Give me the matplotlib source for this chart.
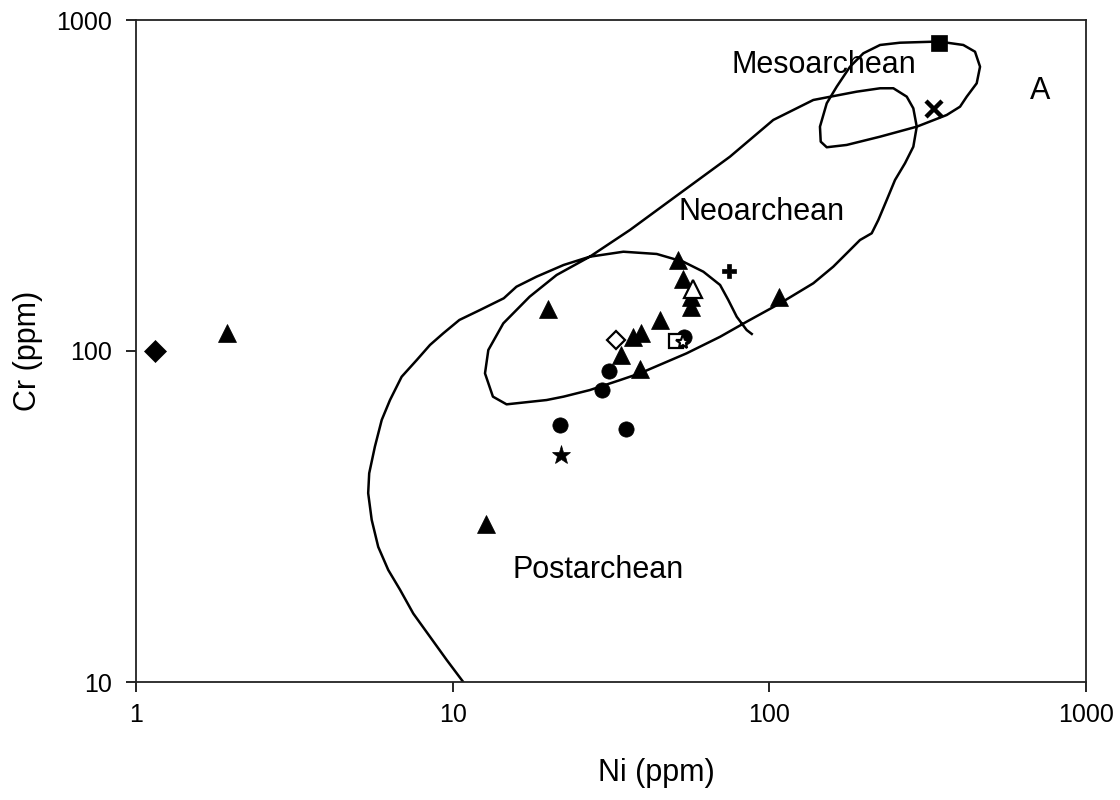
import numpy as np
from matplotlib import pyplot as plt
from matplotlib.ticker import FixedLocator, FuncFormatter, NullLocator

plt.rcParams['font.family'] = ['Liberation Sans', 'DejaVu Sans']

# outline: Postarchean left boundary -> Neoarchean envelope -> inner loop (Ni, Cr in ppm)
field_ni = [10.8, 9.58, 8.48, 7.51, 6.82, 6.26, 5.82, 5.55, 5.41, 5.45, 5.68, 5.97, 6.34, 6.90,
            7.70, 8.48, 9.34, 10.5, 12.2, 14.5, 15.9, 18.4, 22.4, 27.1, 36.3, 52.2, 75.1, 102.9,
            137.7, 188.7, 223.7, 246.4, 271.6, 284.9, 292.1, 284.9, 268.2, 249.4, 234.8, 220.9,
            210.5, 193.3, 175.5, 159.2, 137.7, 108.1, 84.8, 69.9, 59.0, 54.8, 39.0, 33.8, 27.1,
            22.4, 19.8, 14.8, 13.4, 12.65, 12.96, 14.45, 17.5, 21.3, 27.1, 34.6, 44.1, 53.5,
            61.9, 69.9, 74.2, 78.9, 84.8, 88.0]
field_cr = [10.0, 11.65, 13.7, 16.1, 19.0, 21.8, 25.6, 30.9, 37.2, 42.7, 51.4, 61.9, 71.1, 83.6,
            93.9, 104.3, 113.1, 124.1, 133.0, 144.3, 156.4, 167.7, 181.9, 192.7, 232.1, 299.5,
            386.4, 498.9, 573.3, 607.4, 621.9, 622.0, 586.7, 541.0, 476.1, 414.1, 369.2, 328.6,
            285.9, 248.8, 226.8, 216.4, 197.3, 179.8, 160.2, 139.3, 122.6, 110.4, 101.9, 98.4,
            85.6, 81.7, 76.2, 72.8, 71.1, 69.0, 72.8, 85.6, 100.7, 121.2, 145.9, 169.7, 192.7,
            199.5, 196.4, 186.1, 173.6, 158.3, 142.6, 126.9, 115.7, 112.6]

# Mesoarchean loop
meso_ni = [345.8, 409.8, 446.2, 462.8, 451.7, 420.1, 400.2, 363.2, 292.1, 223.7, 175.5, 151.8,
           145.3, 144.5, 151.8, 163.2, 179.8, 198.1, 223.7, 258.6, 329.5, 345.8]
meso_cr = [859.9, 840.5, 802.1, 722.5, 643.9, 586.7, 547.2, 516.4, 476.1, 444.1, 419.3, 412.6,
           429.0, 476.1, 560.3, 628.8, 722.5, 793.3, 840.5, 853.9, 859.9, 859.9]

# samples
tri_ni = [20.0, 51.4, 53.3, 56.6, 56.6, 45.3, 37.1, 39.4, 34.0, 39.1, 107.5, 12.7, 1.94]
tri_cr = [134, 188, 165, 146, 136, 124, 110, 113, 97, 88.5, 146, 30.1, 113]
circ_ni = [31.1, 29.7, 53.9, 21.8, 35.3]
circ_cr = [87, 76, 110, 59.7, 58.3]
open_tri = ([57.3], [154])
star = ([22.0], [48.4])
open_star = ([53.3], [106.4])
open_sq = ([50.8], [107])
open_dia = ([32.7], [107.6])
dia = ([1.15], [100])
sq = ([344], [851])
cross = ([331], [539])
plus = ([74.4], [174])

ticks_x = [1, 10, 100, 1000]
ticks_y = [10, 100, 1000]

fig = plt.figure(figsize=(11.2, 8), dpi=100)
ax = fig.add_axes([136/1120, 1 - 682/800, 950/1120, 662/800])
ax.set_xscale('log')
ax.set_yscale('log')
ax.set_xlim(1, 1000)
ax.set_ylim(10, 1000)

ax.plot(field_ni, field_cr, color='black', lw=1.8, zorder=2)
ax.plot(meso_ni, meso_cr, color='black', lw=1.8, zorder=2)

k = dict(ls='none', color='black', mec='black', zorder=3)
ax.plot(tri_ni, tri_cr, marker='^', ms=13, mew=0.5, **k)
ax.plot(circ_ni, circ_cr, marker='o', ms=11, mew=0.5, **k)
ax.plot(*star, marker='*', ms=14, mew=0.5, **k)
ax.plot(*dia, marker='D', ms=11, mew=0.5, **k)
ax.plot(*sq, marker='s', ms=12, mew=0.5, **k)
ax.plot(*cross, marker='x', ms=12, mew=3.2, **k)
ax.plot(*plus, marker='P', ms=9.5, mew=0.5, **k)
o = dict(ls='none', mfc='white', mec='black', mew=1.6, zorder=4)
ax.plot(*open_tri, marker='^', ms=13, **o)
ax.plot(*open_dia, marker='D', ms=9.5, **o)
ax.plot(*open_sq, marker='s', ms=9.5, **o)
ax.plot(*open_star, marker='*', ms=11, **o)

ax.text(76.2, 690, 'Mesoarchean', fontsize=22, ha='left', va='baseline')
ax.text(51.5, 248.8, 'Neoarchean', fontsize=22, ha='left', va='baseline')
ax.text(15.4, 20.6, 'Postarchean', fontsize=22, ha='left', va='baseline')
ax.text(665, 577, 'A', fontsize=22, ha='left', va='baseline')

ax.xaxis.set_major_locator(FixedLocator(ticks_x))
ax.yaxis.set_major_locator(FixedLocator(ticks_y))
ax.xaxis.set_minor_locator(NullLocator())
ax.yaxis.set_minor_locator(NullLocator())
fmt = FuncFormatter(lambda v, p: '%g' % v)
ax.xaxis.set_major_formatter(fmt)
ax.yaxis.set_major_formatter(fmt)
ax.tick_params(axis='both', direction='out', length=7, width=1.2, labelsize=18)
ax.tick_params(axis='x', pad=8)
ax.tick_params(axis='y', pad=10)
for s in ax.spines.values():
    s.set_linewidth(1.3)
    s.set_color('#222222')

fig.text(656/1120, 1 - 773/800, 'Ni (ppm)', fontsize=22, ha='center', va='center')
fig.text(28/1120, 1 - 351/800, 'Cr (ppm)', fontsize=22, ha='center', va='center', rotation=90)

fig.savefig('out.png', dpi=100, facecolor='white')
